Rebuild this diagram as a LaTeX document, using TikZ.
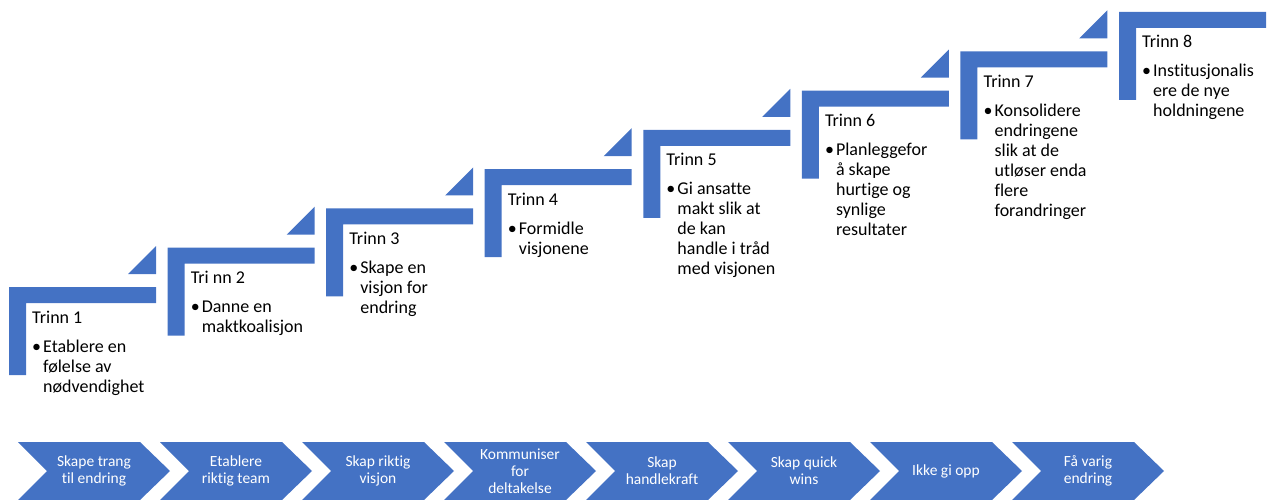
\documentclass[tikz,border=0pt]{standalone}
\usepackage{fontspec}
\setmainfont{Carlito}[Ligatures={NoCommon}]
\definecolor{ablue}{HTML}{4472C4}
\begin{document}
\begin{tikzpicture}[x=1pt,y=-1pt,
  shapefill/.style={fill=ablue},
  titletxt/.style={anchor=base west,inner sep=0pt,font=\fontsize{18}{20}\selectfont,text=black},
  bodytxt/.style={anchor=base west,inner sep=0pt,font=\fontsize{18}{20}\selectfont,text=black},
  chevtxt/.style={align=center,inner sep=0pt,font=\fontsize{15.5}{17}\selectfont,text=white}]
\useasboundingbox (0,0) rectangle (1267,500);
% staircase steps
\foreach \i/\ttl/\body in {
  0/{Trinn 1}/{Etablere en,følelse av,nødvendighet},
  1/{Tri nn 2}/{Danne en,maktkoalisjon},
  2/{Trinn 3}/{Skape en,visjon for,endring},
  3/{Trinn 4}/{Formidle,visjonene},
  4/{Trinn 5}/{Gi ansatte,makt slik at,de kan,handle i tråd,med visjonen},
  5/{Trinn 6}/{Planleggefor,å skape,hurtige og,synlige,resultater},
  6/{Trinn 7}/{Konsolidere,endringene,slik at de,utløser enda,flere,forandringer},
  7/{Trinn 8}/{Institusjonalis,ere de nye,holdningene}}
{
  \pgfmathsetmacro\X{9+158.57*\i}
  \pgfmathsetmacro\Y{287-39.29*\i}
  \fill[shapefill] (\X,\Y) -- ++(147,0) -- ++(0,16) -- ++(-130,0) -- ++(0,72) -- ++(-17,0) -- cycle;
  \ifnum\i<7
    \fill[shapefill] (\X+119,\Y-13) -- (\X+147,\Y-13) -- (\X+147,\Y-41) -- cycle;
  \fi
  \node[titletxt] (t\i) at (\X+23,\Y+36) {\ttl};
  \node[bodytxt] (u\i) at (\X+23,\Y+65) {\textbullet};
  \foreach \l [count=\k] in \body {
    \node[bodytxt] (b\i-\k) at (\X+34,\Y+45+20*\k) {\l};
  }
}
% chevron row
\foreach \i/\txt in {
  0/{Skape trang\\til endring},
  1/{Etablere\\riktig team},
  2/{Skap riktig\\visjon},
  3/{Kommuniser\\for\\deltakelse},
  4/{Skap\\handlekraft},
  5/{Skap quick\\wins},
  6/{Ikke gi opp},
  7/{Få varig\\endring}}
{
  \pgfmathsetmacro\L{18+142*\i}
  \fill[shapefill] (\L,442) -- (\L+122,442) -- (\L+152,471) -- (\L+122,500) -- (\L,500) -- (\L+29,471) -- cycle;
  \node[chevtxt] (c\i) at (\L+76,471) {\txt};
}
\end{tikzpicture}
\end{document}
